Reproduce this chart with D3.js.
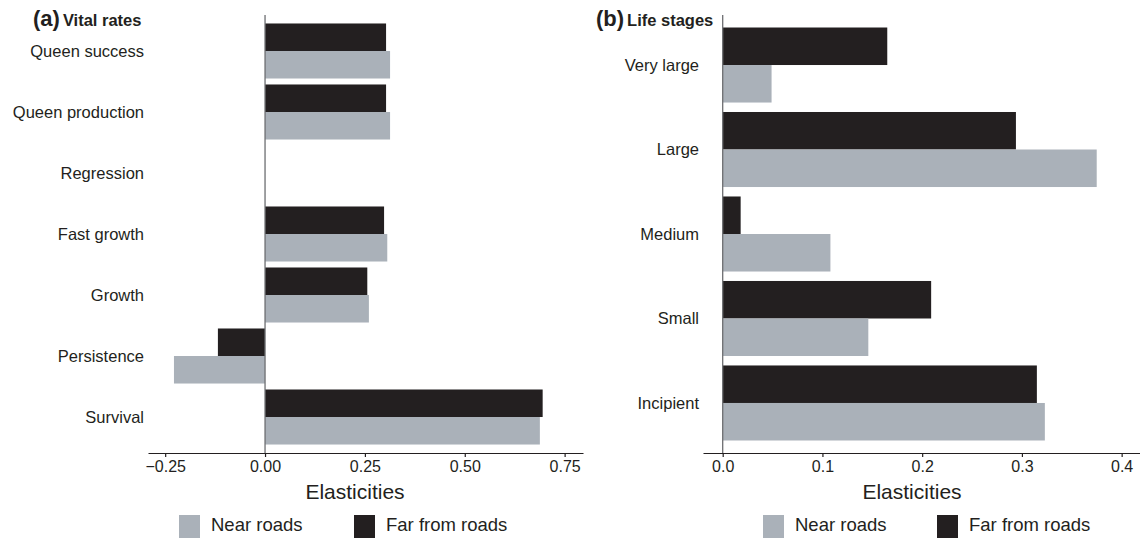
<!DOCTYPE html>
<html>
<head>
<meta charset="utf-8">
<script src="https://cdn.jsdelivr.net/npm/d3@7"></script>
<style>
  html, body { margin: 0; padding: 0; background: #fff; }
  svg { display: block; font-family: "Liberation Sans", Arial, sans-serif; }
</style>
</head>
<body>
<svg id="chart" width="1140" height="538"></svg>
<script>
// Elasticities of vital rates (a) and life stages (b), near vs far from roads
const vitalRates = ["Queen success", "Queen production", "Regression", "Fast growth", "Growth", "Persistence", "Survival"];
const vitalNear  = [0.313, 0.313, 0, 0.306, 0.260, -0.228, 0.688];
const vitalFar   = [0.303, 0.303, 0, 0.298, 0.256, -0.118, 0.695];

const lifeStages = ["Very large", "Large", "Medium", "Small", "Incipient"];
const stageNear  = [0.049, 0.375, 0.108, 0.146, 0.323];
const stageFar   = [0.165, 0.294, 0.018, 0.209, 0.315];

const vitalTicks = [-0.25, 0, 0.25, 0.5, 0.75];
const stageTicks = [0, 0.1, 0.2, 0.3, 0.4];

const seriesNames = ["Near roads", "Far from roads"];
const colors = { near: "#aab1b9", far: "#231f20" };
const ink = "#231f20";

const svg = d3.select("#chart");

function panel(opts) {
  const g = svg.append("g");
  const x = d3.scaleLinear().domain(opts.xDomain).range(opts.xRange);
  const y = d3.scaleBand().domain(opts.categories).range([15, 453])
    .paddingInner(opts.padIn).paddingOuter(opts.padOut);
  const sub = d3.scaleBand().domain(["far", "near"]).range([0, y.bandwidth()]);

  const rows = opts.categories.map((c, i) => ({ c, near: opts.near[i], far: opts.far[i] }));

  ["far", "near"].forEach(key => {
    g.selectAll("rect." + key).data(rows).join("rect")
      .attr("class", key)
      .attr("x", d => x(Math.min(0, d[key])))
      .attr("width", d => Math.abs(x(d[key]) - x(0)))
      .attr("y", d => y(d.c) + sub(key))
      .attr("height", sub.bandwidth())
      .attr("fill", colors[key]);
  });

  // zero line
  g.append("line")
    .attr("x1", x(0)).attr("x2", x(0))
    .attr("y1", 15).attr("y2", 453)
    .attr("stroke", "#6d6e71").attr("stroke-width", 1.3);

  // x axis
  const axis = d3.axisBottom(x).tickValues(opts.ticks).tickFormat(d3.format(opts.fmt))
    .tickSizeInner(4).tickSizeOuter(0).tickPadding(4);
  const ax = g.append("g").attr("transform", "translate(0,453)").call(axis);
  ax.select(".domain").attr("stroke", ink).attr("stroke-width", 1.2);
  ax.selectAll(".tick line").attr("stroke", ink).attr("stroke-width", 1.2);
  ax.selectAll(".tick text").attr("fill", ink).attr("font-size", 16)
    .attr("font-family", "Liberation Sans, Arial, sans-serif");

  // category labels
  g.selectAll("text.cat").data(opts.categories).join("text")
    .attr("class", "cat")
    .attr("x", opts.xRange[0] - 4)
    .attr("y", d => y(d) + y.bandwidth() / 2)
    .attr("dy", "0.36em")
    .attr("text-anchor", "end")
    .attr("font-size", 16.5)
    .attr("fill", ink)
    .text(d => d);

  // panel title
  const t = g.append("text").attr("x", opts.titleX).attr("y", 26)
    .attr("fill", ink).attr("font-weight", "bold");
  t.append("tspan").attr("font-size", 22).text(opts.letter);
  t.append("tspan").attr("font-size", 16.5).attr("dx", 3).text(opts.title);

  // axis title
  g.append("text")
    .attr("x", opts.labelX).attr("y", 499)
    .attr("text-anchor", "middle")
    .attr("font-size", 21)
    .attr("fill", ink)
    .text("Elasticities");

  // legend
  const lg = g.append("g");
  const keys = ["near", "far"];
  keys.forEach((k, i) => {
    lg.append("rect")
      .attr("x", opts.legendX[i]).attr("y", 515)
      .attr("width", 21).attr("height", 23)
      .attr("fill", colors[k]);
    lg.append("text")
      .attr("x", opts.legendX[i] + 32).attr("y", 530.5)
      .attr("font-size", 18.5)
      .attr("fill", ink)
      .text(seriesNames[i]);
  });
}

panel({
  categories: vitalRates, near: vitalNear, far: vitalFar,
  xDomain: [-0.293, 0.796], xRange: [148, 583],
  padIn: 0.098, padOut: 0.139,
  ticks: vitalTicks, fmt: ".2f",
  letter: "(a)", title: "Vital rates", titleX: 33,
  labelX: 355, legendX: [179, 354]
});

panel({
  categories: lifeStages, near: stageNear, far: stageFar,
  xDomain: [-0.01975, 0.4184], xRange: [703, 1140],
  padIn: 0.112, padOut: 0.148,
  ticks: stageTicks, fmt: ".1f",
  letter: "(b)", title: "Life stages", titleX: 596,
  labelX: 912, legendX: [763, 937]
});
</script>
</body>
</html>
